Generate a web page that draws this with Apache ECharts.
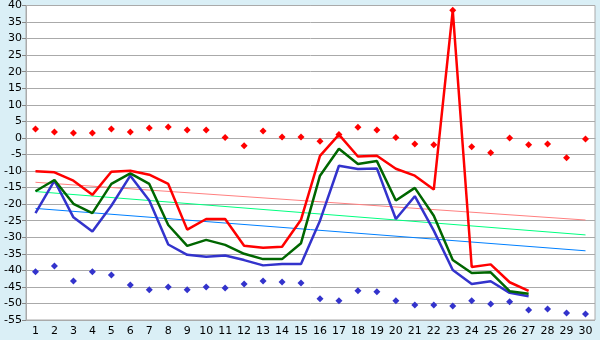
<!DOCTYPE html>
<html><head><meta charset="utf-8">
<script src="https://cdn.jsdelivr.net/npm/echarts@6/dist/echarts.min.js"></script>
<style>html,body{margin:0;padding:0;background:#daeff6}#c{width:600px;height:340px}</style>
</head><body><div id="c"></div>
<script>
const categories = ['1','2','3','4','5','6','7','8','9','10','11','12','13','14','15','16','17','18','19','20','21','22','23','24','25','26','27','28','29','30'];
const yTicks = {min: -55, max: 40, interval: 5};
const redLine = [-10.1,-10.4,-12.9,-17.2,-10.2,-9.9,-11.1,-13.9,-27.7,-24.5,-24.5,-32.6,-33.2,-32.9,-24.7,-5.4,1.0,-5.6,-5.4,-9.3,-11.4,-15.6,38.5,-39.0,-38.2,-43.6,-46.2,null,null,null];
const greenLine = [-16.1,-12.7,-19.9,-22.7,-13.9,-10.7,-13.9,-26.3,-32.6,-30.8,-32.3,-35.0,-36.6,-36.6,-31.8,-11.4,-3.3,-7.9,-7.0,-18.9,-15.1,-23.5,-36.9,-40.8,-40.6,-46.3,-47.1,null,null,null];
const blueLine = [-22.7,-12.9,-24.0,-28.3,-20.5,-11.4,-18.9,-32.2,-35.3,-35.9,-35.5,-36.9,-38.5,-38.1,-38.1,-25.0,-8.4,-9.4,-9.2,-24.5,-17.6,-28.0,-39.9,-44.1,-43.3,-46.8,-47.8,null,null,null];
const redPoints = [2.7,1.8,1.5,1.5,2.7,1.8,3.0,3.3,2.4,2.4,0.1,-2.4,2.1,0.3,0.3,-1.0,1.0,3.2,2.4,0.1,-1.8,-2.1,38.6,-2.7,-4.5,0.0,-2.1,-1.8,-6.0,-0.3];
const bluePoints = [-40.4,-38.7,-43.2,-40.4,-41.4,-44.4,-45.9,-45.0,-45.9,-45.0,-45.3,-44.1,-43.2,-43.5,-43.8,-48.6,-49.2,-46.2,-46.5,-49.2,-50.5,-50.5,-50.8,-49.2,-50.2,-49.5,-52.0,-51.7,-52.9,-53.2];
const redTrend = [['1', -13.4], ['30', -24.8]];
const greenTrend = [['1', -16.2], ['30', -29.3]];
const blueTrend = [['1', -21.3], ['30', -34.1]];

const font = {fontFamily: 'DejaVu Sans', fontSize: 11, color: '#000'};
const chart = echarts.init(document.getElementById('c'), null, {renderer: 'canvas'});
function lineS(data, color, width, z) {
  return {type: 'line', data: data, symbol: 'none', showSymbol: false, silent: true,
    lineStyle: {color: color, width: width}, itemStyle: {color: color}, z: z, animation: false};
}
function ptS(data, color) {
  return {type: 'scatter', data: data, symbol: 'diamond', symbolSize: 7,
    itemStyle: {color: color, opacity: 1}, z: 10, animation: false};
}
chart.setOption({
  backgroundColor: '#daeff6',
  animation: false,
  grid: {left: 26, right: 5, top: 5, bottom: 20, show: true, backgroundColor: '#fff', borderColor: '#aaaaaa', borderWidth: 1},
  xAxis: {type: 'category', data: categories, boundaryGap: true,
    axisLine: {lineStyle: {color: '#aaaaaa'}},
    axisTick: {alignWithLabel: true, length: 4, lineStyle: {color: '#888'}},
    axisLabel: Object.assign({margin: 6, interval: 0}, font),
    splitLine: {show: false}},
  yAxis: {type: 'value', min: yTicks.min, max: yTicks.max, interval: yTicks.interval,
    axisLine: {show: true, lineStyle: {color: '#aaaaaa'}},
    axisTick: {show: true, length: 4, lineStyle: {color: '#888'}},
    axisLabel: Object.assign({margin: 4}, font),
    splitLine: {lineStyle: {color: '#aaaaaa', width: 1}}},
  series: [
    lineS(redTrend, '#ff8080', 1, 2),
    lineS(greenTrend, '#00ff80', 1, 2),
    lineS(blueTrend, '#0080ff', 1, 2),
    lineS(blueLine, '#3333cc', 2.5, 3),
    lineS(greenLine, '#006600', 2.5, 4),
    lineS(redLine, '#ff0000', 2.5, 5),
    ptS(redPoints, '#ff0000'),
    ptS(bluePoints, '#3333cc')
  ]
});
</script></body></html>
